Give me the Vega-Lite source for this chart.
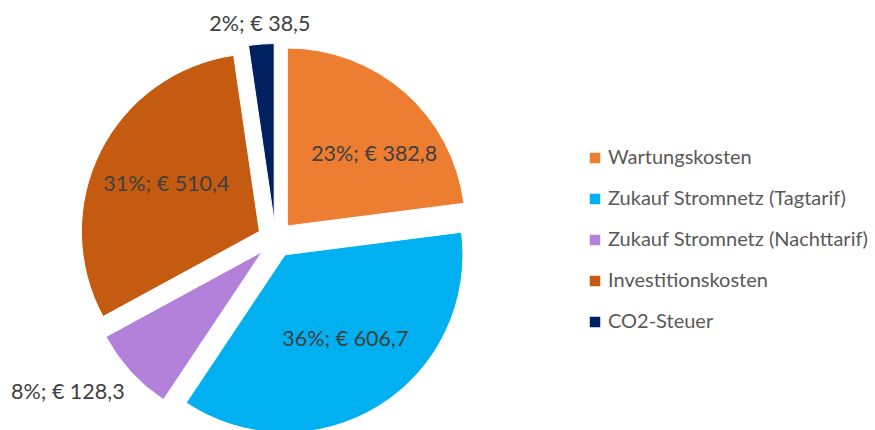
{
  "$schema": "https://vega.github.io/schema/vega-lite/v6.json",
  "width": 551,
  "height": 479,
  "autosize": {"type": "none"},
  "padding": {"left": 0, "top": 0, "right": 324, "bottom": 0},
  "background": "white",
  "config": {"view": {"stroke": null}},
  "data": {
    "values": [
      {"category": "Wartungskosten", "value": 382.8, "label": "23%; € 382,8", "order": 1},
      {"category": "Zukauf Stromnetz (Tagtarif)", "value": 606.7, "label": "36%; € 606,7", "order": 2},
      {"category": "Zukauf Stromnetz (Nachttarif)", "value": 128.3, "label": "8%; € 128,3", "order": 3},
      {"category": "Investitionskosten", "value": 510.4, "label": "31%; € 510,4", "order": 4},
      {"category": "CO2-Steuer", "value": 38.5, "label": "2%; € 38,5", "order": 5}
    ]
  },
  "transform": [
    {"joinaggregate": [{"op": "sum", "field": "value", "as": "total"}]}
  ],
  "encoding": {
    "theta": {"field": "value", "type": "quantitative", "stack": true},
    "order": {"field": "order", "type": "quantitative"}
  },
  "layer": [
    {
      "mark": {
        "type": "arc",
        "outerRadius": 178,
        "stroke": "white",
        "strokeWidth": 1,
        "xOffset": {"expr": "18*sin(PI*(datum.value_start+datum.value_end)/datum.total)"},
        "yOffset": {"expr": "-18*cos(PI*(datum.value_start+datum.value_end)/datum.total)"}
      },
      "encoding": {
        "color": {
          "field": "category",
          "type": "nominal",
          "scale": {
            "domain": ["Wartungskosten", "Zukauf Stromnetz (Tagtarif)", "Zukauf Stromnetz (Nachttarif)", "Investitionskosten", "CO2-Steuer"],
            "range": ["#ED7D31", "#00B0F0", "#B381D9", "#C55A11", "#002060"]
          },
          "legend": {
            "title": null,
            "orient": "none",
            "legendX": 585,
            "legendY": 148,
            "symbolType": "square",
            "symbolSize": 110,
            "symbolStrokeWidth": 0,
            "labelFont": "Lato",
            "labelFontSize": 20,
            "labelColor": "#595959",
            "labelLimit": 300,
            "rowPadding": 21,
            "labelOffset": 3
          }
        }
      }
    },
    {
      "mark": {
        "type": "text",
        "font": "Lato",
        "fontSize": 21.5,
        "align": "center",
        "baseline": "middle",
        "radius": {"expr": "datum.order == 1 ? 130 : datum.order == 2 ? 122 : datum.order == 3 ? 258 : datum.order == 4 ? 122 : 215"},
        "thetaOffset": {"expr": "datum.order == 1 ? 0.14 : datum.order == 2 ? -0.055 : datum.order == 3 ? 0.105 : 0"}
      },
      "encoding": {
        "detail": {"field": "category", "type": "nominal"},
        "text": {"field": "label", "type": "nominal"},
        "color": {"value": "#404040"}
      }
    }
  ]
}
